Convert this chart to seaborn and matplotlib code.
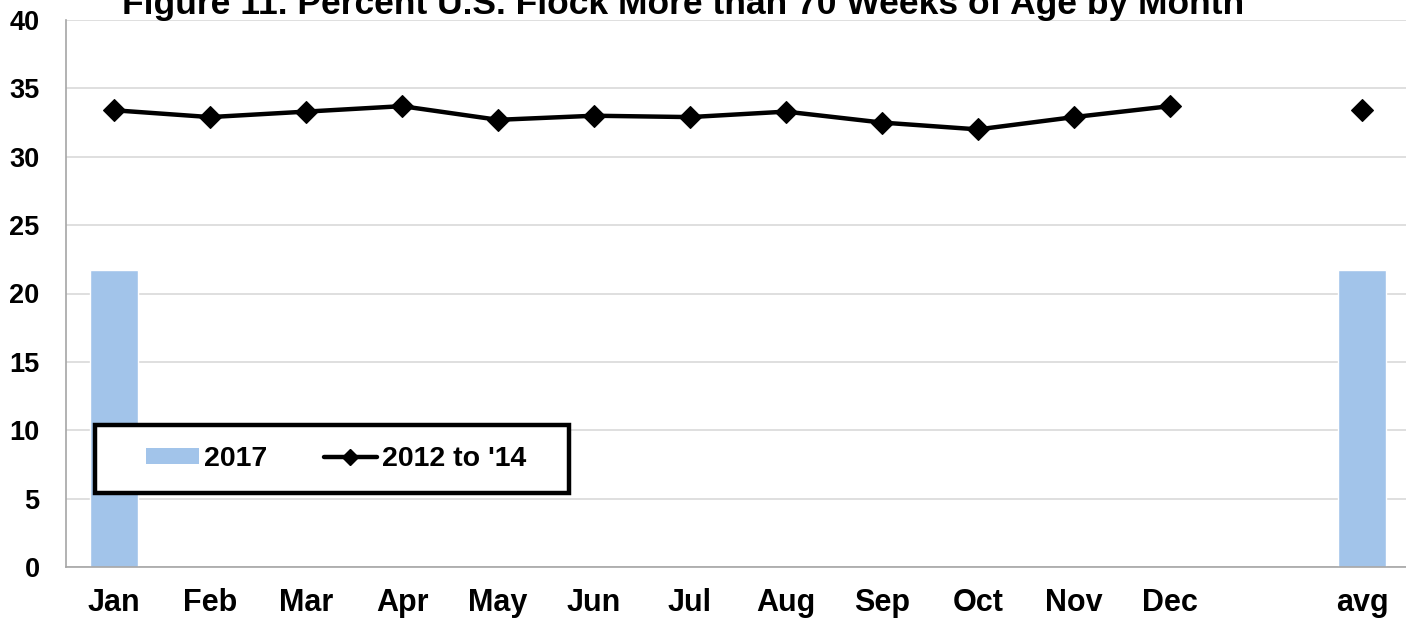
import numpy as np
import pandas as pd
import matplotlib
matplotlib.use("Agg")
import matplotlib.pyplot as plt
import seaborn as sns
from matplotlib.lines import Line2D
from matplotlib.patches import Patch, Rectangle

sns.set_style("white")
plt.rcParams['font.family'] = ['Liberation Sans', 'DejaVu Sans']
plt.rcParams['font.weight'] = 'bold'
plt.rcParams['text.color'] = 'black'

# data
categories = ["Jan", "Feb", "Mar", "Apr", "May", "Jun", "Jul", "Aug",
              "Sep", "Oct", "Nov", "Dec", "", "avg"]
flock_2017 = [21.7, np.nan, np.nan, np.nan, np.nan, np.nan, np.nan, np.nan,
              np.nan, np.nan, np.nan, np.nan, np.nan, 21.7]
months = categories[:12]
flock_2012_14 = [33.4, 32.9, 33.3, 33.7, 32.7, 33.0, 32.9, 33.3, 32.5, 32.0, 32.9, 33.7]
flock_2012_14_avg = 33.4

bar_color = "#A2C4EA"
df = pd.DataFrame({"month": categories, "y2017": flock_2017})

fig = plt.figure(figsize=(14.06, 6.21), dpi=100)
ax = fig.add_axes([66 / 1406, 1 - 567 / 621, 1344 / 1406, 547 / 621])

sns.barplot(data=df, x="month", y="y2017", order=categories, color=bar_color,
            width=0.49, saturation=1, ax=ax, zorder=2)

pos = np.arange(len(categories))
sns.lineplot(x=pos[:12], y=flock_2012_14, color="black", linewidth=3.2,
             marker="D", markersize=11, markeredgecolor="black",
             markeredgewidth=0.8, ax=ax, zorder=3)
ax.plot([pos[categories.index("avg")]], [flock_2012_14_avg], linestyle="none",
        marker="D", markersize=11, markeredgewidth=0.8, color="black", zorder=3)

ax.set_xlim(-0.5, len(categories) - 0.5)
ax.set_ylim(0, 40)
ax.set_yticks(range(0, 45, 5))
ax.set_xlabel("")
ax.set_ylabel("")
ax.yaxis.grid(True, color="#d9d9d9", linewidth=1.2, zorder=0)
ax.set_axisbelow(True)

for s in ["top", "right"]:
    ax.spines[s].set_visible(False)
for s in ["left", "bottom"]:
    ax.spines[s].set_color("#a6a6a6")
    ax.spines[s].set_linewidth(1.2)

ax.set_xticks(pos)
ax.set_xticklabels(categories)
ax.set_xticks(np.arange(-0.5, len(categories), 1), minor=True)
ax.tick_params(axis="x", which="major", length=0, pad=15, labelsize=22,
               labelcolor="black")
ax.tick_params(axis="x", which="minor", length=8, color="#a6a6a6", width=1.2)
ax.tick_params(axis="y", length=6, color="#a6a6a6", width=1.2, labelsize=19.5,
               pad=13, labelcolor="black")
for lab in ax.get_xticklabels() + ax.get_yticklabels():
    lab.set_fontweight("bold")

# legend box
box = Rectangle((95 / 1406, 1 - 493 / 621), 474 / 1406, 68 / 621,
                transform=fig.transFigure, facecolor="white", edgecolor="black",
                linewidth=3.2, zorder=4)
fig.patches.append(box)

handles = [Patch(facecolor=bar_color, edgecolor="none", label="2017"),
           Line2D([], [], color="black", linewidth=3.2, marker="D", markersize=8,
                  label="2012 to '14")]
leg = fig.legend(handles=handles, loc="center",
                 bbox_to_anchor=(336 / 1406, 1 - 459 / 621),
                 ncol=2, frameon=False, prop={"weight": "bold", "size": 20.5},
                 handlelength=1.85, handleheight=0.53, handletextpad=0.18,
                 columnspacing=2.0, borderpad=0, borderaxespad=0)
leg.set_zorder(5)

fig.text(683 / 1406, 1 - 14 / 621,
         "Figure 11. Percent U.S. Flock More than 70 Weeks of Age by Month",
         ha="center", va="baseline", fontsize=25.5, fontweight="bold")

fig.savefig("out.png", dpi=100)
